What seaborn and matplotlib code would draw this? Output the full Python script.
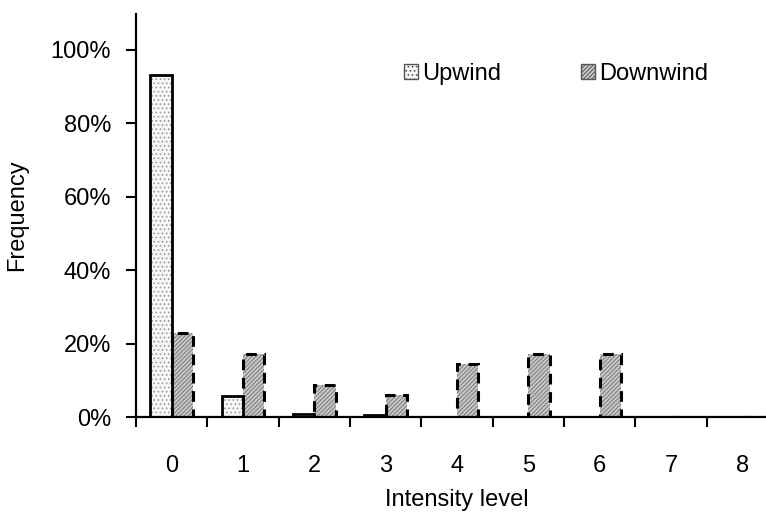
import matplotlib
matplotlib.use("Agg")
import matplotlib.pyplot as plt
import seaborn as sns
import pandas as pd
from matplotlib.patches import Patch
from matplotlib.ticker import PercentFormatter, FixedLocator

levels = ["0", "1", "2", "3", "4", "5", "6", "7", "8"]
upwind = [0.93, 0.057, 0.008, 0.005, 0.0, 0.0, 0.0, 0.0, 0.0]
downwind = [0.229, 0.171, 0.087, 0.06, 0.144, 0.171, 0.171, 0.0, 0.0]
series = ["Upwind", "Downwind"]

df = pd.DataFrame({
    "level": levels * 2,
    "freq": upwind + downwind,
    "site": ["Upwind"] * len(levels) + ["Downwind"] * len(levels),
})

sns.set_style("ticks")
plt.rcParams["font.family"] = ["Liberation Sans", "DejaVu Sans"]
plt.rcParams["hatch.linewidth"] = 0.7
for k in ["text.color", "axes.labelcolor", "xtick.color", "ytick.color", "axes.edgecolor"]:
    plt.rcParams[k] = "black"

FS = 17
fig = plt.figure(figsize=(7.66, 5.13), dpi=100)
ax = fig.add_axes([136 / 766, 1 - 417 / 513, 642 / 766, 403 / 513])

# filled hatched bars
sns.barplot(data=df, x="level", y="freq", hue="site", hue_order=series,
            palette=["#f6f6f6", "#c8c8c8"], width=0.6, gap=0,
            edgecolor="#9a9a9a", linewidth=0, legend=False, ax=ax)
for p in ax.containers[0]:
    p.set_hatch("....")
for p in ax.containers[1]:
    p.set_hatch("////////")
    p.set_edgecolor("#7a7a7a")

# outline bars
n0 = len(ax.containers)
sns.barplot(data=df, x="level", y="freq", hue="site", hue_order=series,
            palette=["black", "black"], width=0.6, gap=0, fill=False,
            linewidth=2, legend=False, ax=ax)
for p in ax.containers[n0]:
    p.set_edgecolor("black")
    p.set_linestyle("-")
for p in ax.containers[n0 + 1]:
    p.set_edgecolor("black")
    p.set_linewidth(2.2)
    p.set_linestyle((0, (3.5, 2.5)))

ax.set_xlim(-0.5, 8.5)
ax.set_ylim(0, 1.097)
ax.set_yticks([0, 0.2, 0.4, 0.6, 0.8, 1.0])
ax.yaxis.set_major_formatter(PercentFormatter(1.0, decimals=0))
ax.xaxis.set_minor_locator(FixedLocator([i - 0.5 for i in range(10)]))
ax.tick_params(axis="x", which="major", length=0, pad=27, labelsize=FS)
ax.tick_params(axis="x", which="minor", length=7, width=1.5, direction="out")
ax.tick_params(axis="y", length=7, width=1.5, direction="out", pad=11, labelsize=FS)
for s in ["left", "bottom"]:
    ax.spines[s].set_linewidth(1.6)
sns.despine(ax=ax)

ax.set_xlabel("Intensity level", fontsize=FS, labelpad=9)
ax.set_ylabel("Frequency", fontsize=FS, labelpad=16)

handles = [
    Patch(facecolor="#f6f6f6", edgecolor="#555555", hatch="....", linewidth=1, label="Upwind"),
    Patch(facecolor="#c8c8c8", edgecolor="#555555", hatch="////////", linewidth=1, label="Downwind"),
]
fig.legend(handles=handles, loc="center", bbox_to_anchor=(556 / 766, 1 - 74 / 513),
           ncol=2, frameon=False, fontsize=FS, handlelength=0.6, handleheight=0.6,
           handletextpad=0.2, columnspacing=3.35)

fig.savefig("out.png", dpi=100)
